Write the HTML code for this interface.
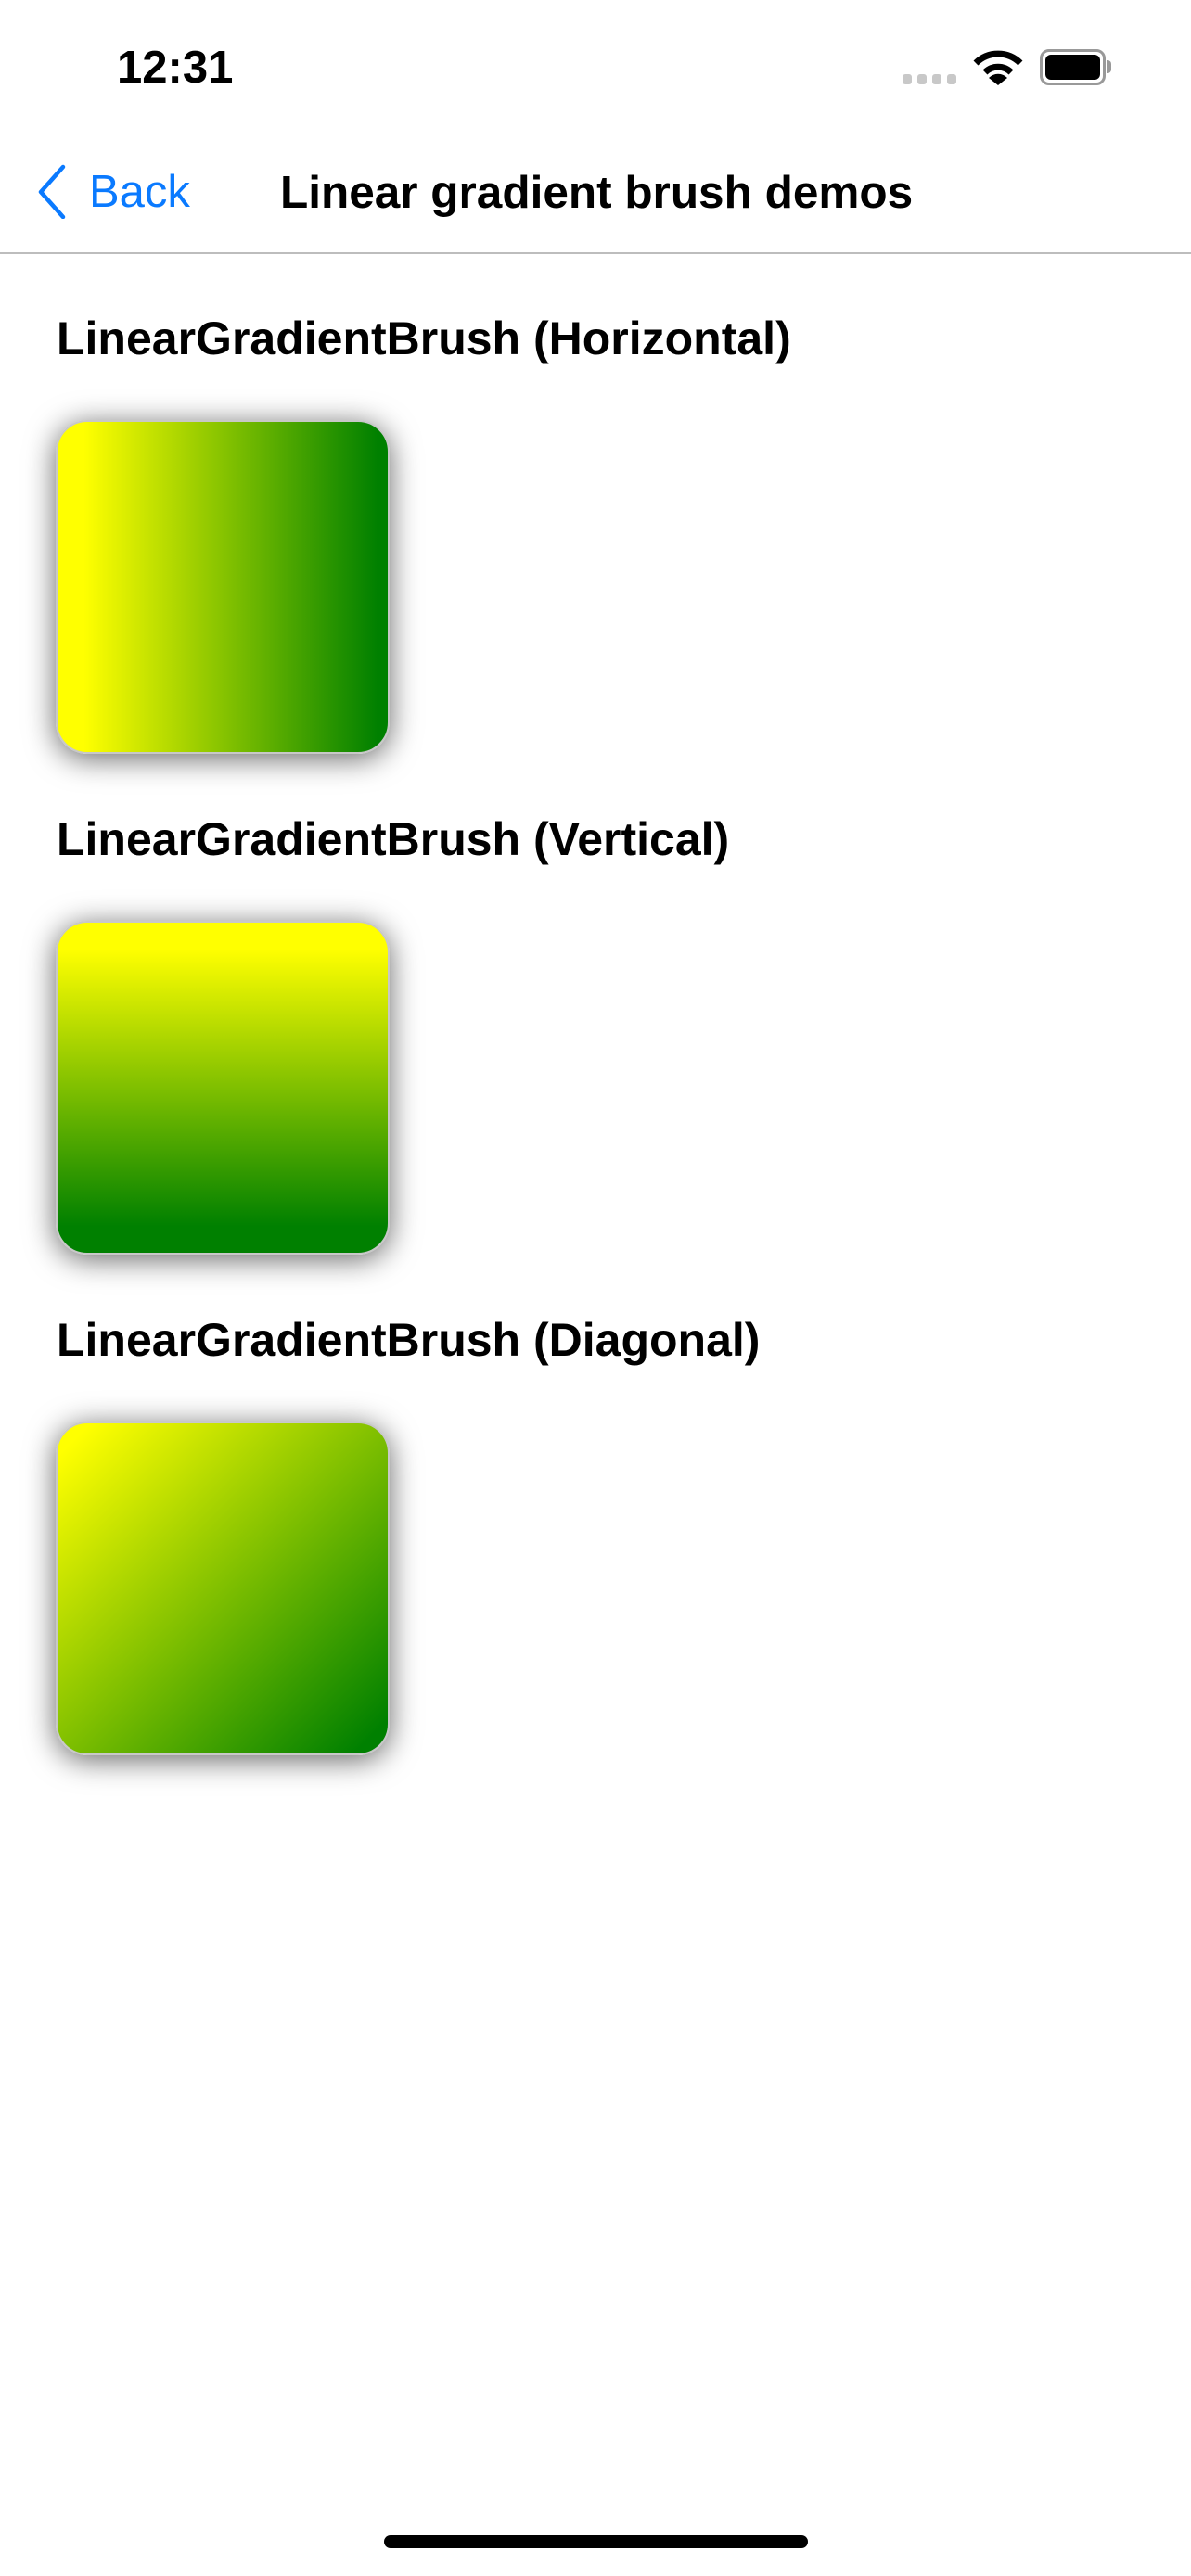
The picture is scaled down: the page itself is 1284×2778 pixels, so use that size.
<!DOCTYPE html>
<html><head><meta charset="utf-8"><style>
body{margin:0;width:1284px;height:2778px;background:#fff;position:relative;overflow:hidden;font-family:"Liberation Sans",sans-serif;}
.a{position:absolute;}
.t{position:absolute;font-weight:bold;font-size:50px;color:#000;white-space:nowrap;line-height:1;}
.box{position:absolute;left:60px;width:356px;height:356px;border:2px solid #c8c8c8;border-radius:34px;box-shadow:0 5px 32px rgba(0,0,0,0.6);}
</style></head><body>
<div class="t" style="left:126px;top:49px;font-size:49px;">12:31</div>
<div class="a" style="left:973px;top:80px;width:10px;height:11px;border-radius:3px;background:#c8c8c8"></div>
<div class="a" style="left:989px;top:80px;width:10px;height:11px;border-radius:3px;background:#c8c8c8"></div>
<div class="a" style="left:1005px;top:80px;width:10px;height:11px;border-radius:3px;background:#c8c8c8"></div>
<div class="a" style="left:1021px;top:80px;width:10px;height:11px;border-radius:3px;background:#c8c8c8"></div>
<svg class="a" style="left:1048px;top:52px" width="56" height="42" viewBox="0 0 56 42">
<path d="M4 16 A34 34 0 0 1 52 16" stroke="#000" stroke-width="7" fill="none"/>
<path d="M14 26 A20 20 0 0 1 42 26" stroke="#000" stroke-width="7" fill="none"/>
<path d="M18 32 L28 40 L38 32 A14 14 0 0 0 18 32 Z" fill="#000"/>
</svg>
<div class="a" style="left:1121px;top:53px;width:65px;height:33px;border:3px solid #999;border-radius:10px;"></div>
<div class="a" style="left:1127px;top:59px;width:59px;height:27px;background:#000;border-radius:6px;"></div>
<div class="a" style="left:1193px;top:65px;width:5px;height:14px;background:#999;border-radius:0 4px 4px 0;"></div>
<svg class="a" style="left:36px;top:176px" width="40" height="60"><path d="M32 4 L8 31 L32 58" stroke="#0a7aff" stroke-width="4.5" fill="none" stroke-linecap="round" stroke-linejoin="round"/></svg>
<div class="t" style="left:96px;top:183px;font-weight:normal;color:#0a7aff;font-size:49px;">Back</div>
<div class="t" style="left:302px;top:183px;font-size:49.5px;">Linear gradient brush demos</div>
<div class="a" style="left:0;top:272px;width:1284px;height:2px;background:#bdbdbd"></div>
<div class="t" style="left:61px;top:340px;">LinearGradientBrush (Horizontal)</div>
<div class="box" style="top:453px;background:linear-gradient(to right,#ff0 8%,#008000 97%);"></div>
<div class="t" style="left:61px;top:880px;">LinearGradientBrush (Vertical)</div>
<div class="box" style="top:993px;background:linear-gradient(to bottom,#ff0 8%,#008000 92%);"></div>
<div class="t" style="left:61px;top:1420px;">LinearGradientBrush (Diagonal)</div>
<div class="box" style="top:1533px;background:linear-gradient(135deg,#ff0 5%,#008000 95%);"></div>
<div class="a" style="left:414px;top:2734px;width:457px;height:14px;border-radius:7px;background:#000"></div>
</body></html>
